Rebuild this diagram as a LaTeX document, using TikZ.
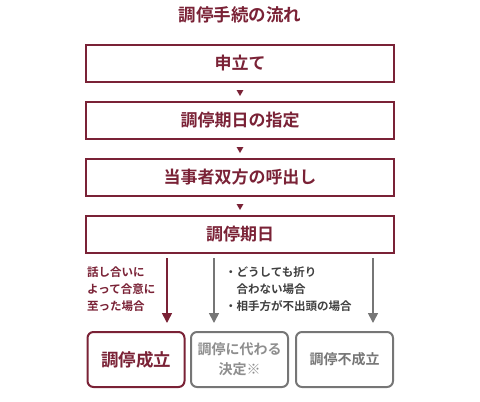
\documentclass[tikz,border=0pt]{standalone}
\usepackage{fontspec}
\setmainfont{Noto Sans CJK JP}[BoldFont={* Bold}]
\usetikzlibrary{arrows.meta,shapes.geometric}
\definecolor{dred}{HTML}{7A2236}
\definecolor{dgray}{HTML}{767676}
\definecolor{lgray}{HTML}{8E8E8E}
\tikzset{
  mainbox/.style={draw=dred, line width=1.2pt, minimum width=308pt, minimum height=37pt, inner sep=0pt, text=dred, font=\bfseries\fontsize{17}{19}\selectfont},
  tri/.style={fill=dred, draw=none, isosceles triangle, shape border rotate=-90, isosceles triangle apex angle=60, inner sep=0pt, minimum size=6pt},
  endbox/.style={rounded corners=6pt, line width=2pt, minimum width=97pt, minimum height=55pt, inner sep=0pt, align=center},
  arr/.style={line width=1.6pt, -{Triangle[length=10pt,width=10pt]}},
  note/.style={font=\bfseries\fontsize{11.5}{17}\selectfont, anchor=north west, align=left, inner sep=0pt}
}
\begin{document}
\begin{tikzpicture}[x=1pt,y=-1pt]
\useasboundingbox (0,0) rectangle (480,402);
\node[text=dred, font=\bfseries\fontsize{17.5}{19}\selectfont] (title) at (240,15) {調停手続の流れ};
\node[mainbox] (b1) at (240,63.5) {申立て};
\node[mainbox] (b2) at (240,120.5) {調停期日の指定};
\node[mainbox] (b3) at (240,177.5) {当事者双方の呼出し};
\node[mainbox] (b4) at (240,234.5) {調停期日};
\node[tri] (t1) at (240,92) {};
\node[tri] (t2) at (240,149) {};
\node[tri] (t3) at (240,206) {};
\node[endbox, draw=dred, text=dred, font=\bfseries\fontsize{17.5}{20}\selectfont] (e1) at (136,359.5) {調停成立};
\node[endbox, draw=dgray, text=lgray, font=\bfseries\fontsize{14}{20}\selectfont] (e2) at (239.5,359.5) {調停に代わる\\決定※};
\node[endbox, draw=dgray, text=dgray, font=\bfseries\fontsize{14}{16}\selectfont] (e3) at (344.5,359.5) {調停不成立};
\coordinate (s1) at (167,258);
\coordinate (s2) at (214,258);
\coordinate (s3) at (373,258);
\draw[arr, draw=dred, fill=dred] (s1) -- (167,323);
\draw[arr, draw=dgray, fill=dgray] (s2) -- (214,323);
\draw[arr, draw=dgray, fill=dgray] (s3) -- (373,323);
\node[note, text=dred] (n1) at (87,267) {話し合いに\\よって合意に\\至った場合};
\node[note, text=black!75] (n2) at (225,267) {・どうしても折り\\\hspace{11.5pt}合わない場合\\・相手方が不出頭の場合};
\end{tikzpicture}
\end{document}
